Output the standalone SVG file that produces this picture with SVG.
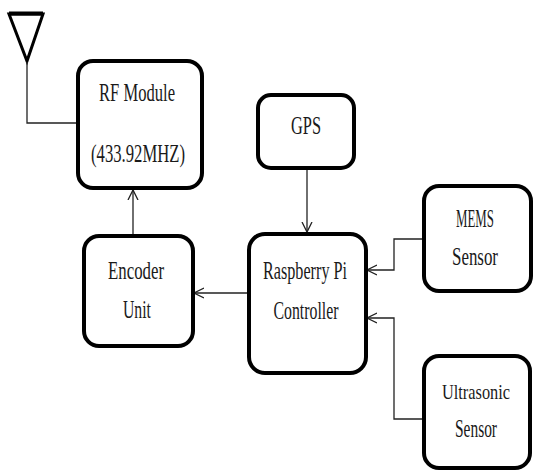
<svg xmlns="http://www.w3.org/2000/svg" width="534" height="472" viewBox="0 0 534 472">
<style>
.box{fill:#fff;stroke:#000;stroke-width:4}
.t{font-family:"Liberation Serif","Times New Roman",serif;font-size:25px;fill:#1a1a1a;text-anchor:middle}
.c{fill:none;stroke:#222;stroke-width:1.3}
</style>
<defs>
<marker id="ah" markerUnits="userSpaceOnUse" markerWidth="12" markerHeight="12" refX="10" refY="5" orient="auto" viewBox="0 0 12 10">
<path d="M0,0 L10,5 L0,10" fill="none" stroke="#222" stroke-width="1.3"/>
</marker>
</defs>
<rect width="534" height="472" fill="#fff"/>
<g id="antenna">
<path d="M9,14 L43,14 L27,61 Z" fill="none" stroke="#000" stroke-width="3" stroke-linejoin="miter"/>
<line x1="9" y1="13.5" x2="43" y2="13.5" stroke="#000" stroke-width="4"/>
</g>
<g id="connectors">
<path class="c" d="M27,62 L27,123 L78,123" stroke="#345"/>
<path class="c" d="M133,235 L133,190" marker-end="url(#ah)"/>
<path class="c" d="M307,168 L307,232" marker-end="url(#ah)"/>
<path class="c" d="M248,293 L194,293" marker-end="url(#ah)"/>
<path class="c" d="M423,239 L394,239 L394,270 L367,270" marker-end="url(#ah)"/>
<path class="c" d="M423,419 L394,419 L394,318 L367,318" marker-end="url(#ah)"/>
</g>
<g id="rf">
<rect class="box" x="78" y="61" width="124" height="127" rx="15"/>
<text class="t" x="137" y="101" textLength="76" lengthAdjust="spacingAndGlyphs">RF Module</text>
<text class="t" x="138" y="162" textLength="94" lengthAdjust="spacingAndGlyphs">(433.92MHZ)</text>
</g>
<g id="gps">
<rect class="box" x="258" y="95" width="96" height="73" rx="13"/>
<text class="t" x="306" y="134" textLength="30" lengthAdjust="spacingAndGlyphs">GPS</text>
</g>
<g id="controller">
<rect class="box" x="249" y="234" width="117" height="139" rx="16"/>
<text class="t" x="305" y="279" textLength="84" lengthAdjust="spacingAndGlyphs">Raspberry Pi</text>
<text class="t" x="306" y="319" textLength="65" lengthAdjust="spacingAndGlyphs">Controller</text>
</g>
<g id="encoder">
<rect class="box" x="84" y="236" width="109" height="110" rx="15"/>
<text class="t" x="136" y="279" textLength="56" lengthAdjust="spacingAndGlyphs">Encoder</text>
<text class="t" x="137" y="318" textLength="28" lengthAdjust="spacingAndGlyphs">Unit</text>
</g>
<g id="mems">
<rect class="box" x="424" y="186" width="107" height="105" rx="15"/>
<text class="t" x="475" y="227" textLength="38" lengthAdjust="spacingAndGlyphs">MEMS</text>
<text class="t" x="475" y="265" textLength="46" lengthAdjust="spacingAndGlyphs">Sensor</text>
</g>
<g id="ultrasonic">
<rect class="box" x="424" y="356" width="106" height="112" rx="15"/>
<text class="t" x="476" y="399" style="font-size:22px" textLength="68" lengthAdjust="spacingAndGlyphs">Ultrasonic</text>
<text class="t" x="476" y="437" textLength="42" lengthAdjust="spacingAndGlyphs">Sensor</text>
</g>
</svg>
